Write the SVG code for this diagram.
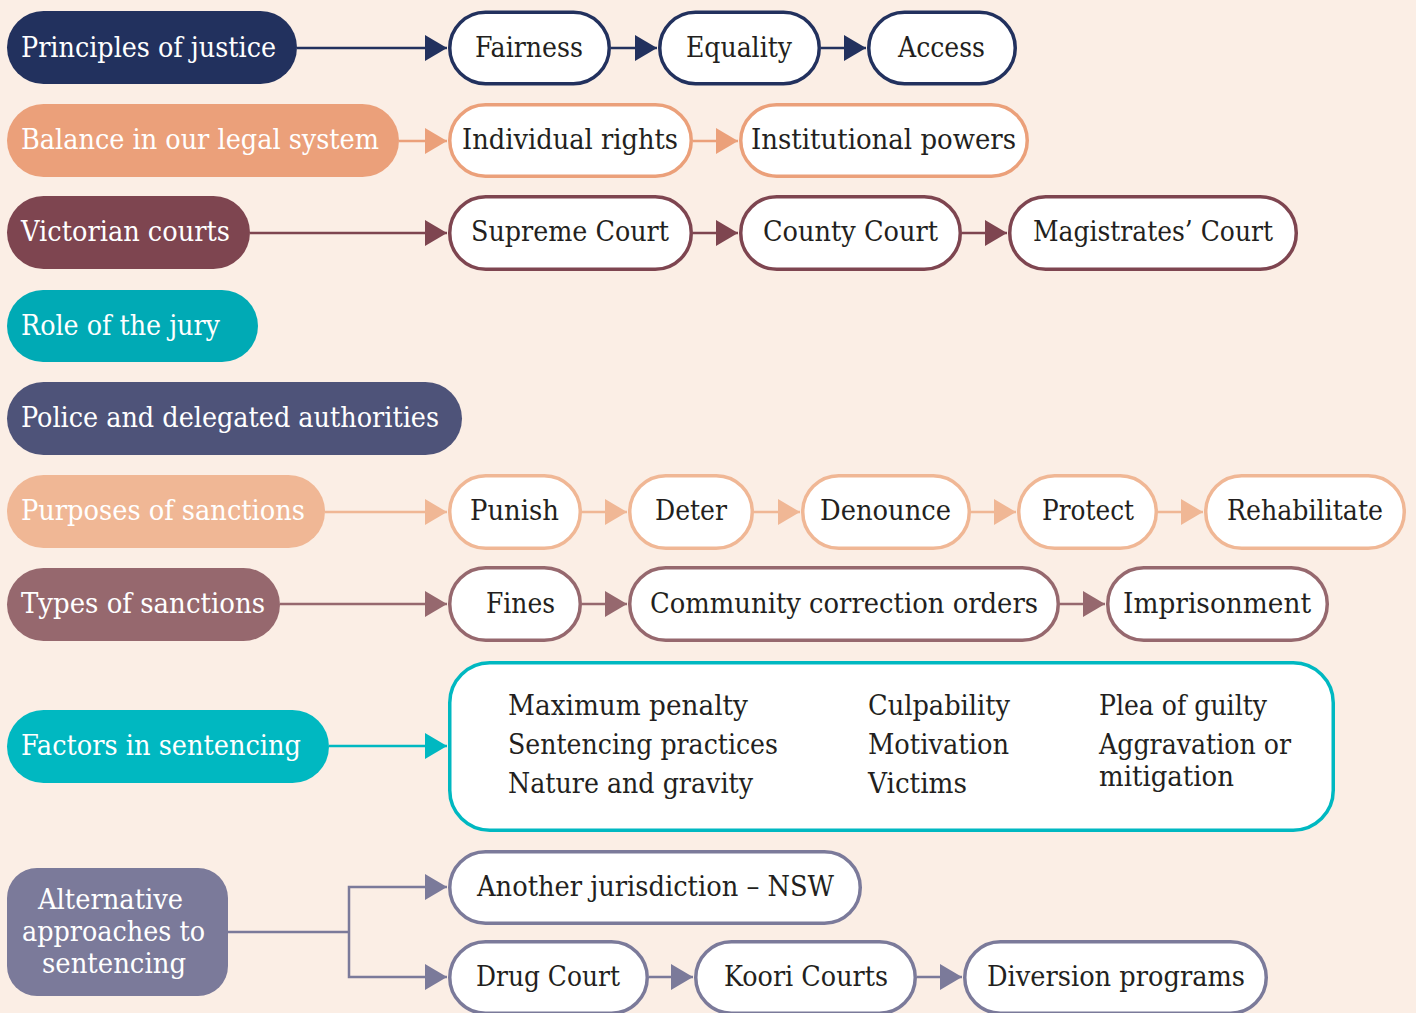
<svg xmlns="http://www.w3.org/2000/svg" width="1416" height="1013" viewBox="0 0 1416 1013">
  <style>
    text { font-family: "DejaVu Serif Condensed", "DejaVu Serif", "Liberation Serif", serif; font-stretch: condensed; font-size: 27px; }
    .hd { fill: #ffffff; }
    .lb { fill: #231f20; }
    .box { fill: #ffffff; stroke-width: 3.5; }
    .ln { fill: none; stroke-width: 2.5; }
    .navy { stroke: #22315e; } .orange { stroke: #eba07a; } .maroon { stroke: #7e4550; }
    .peach { stroke: #f0b795; } .mauve { stroke: #96686e; } .teal { stroke: #00b8c1; } .grey { stroke: #7b7a9a; }
  </style>
  <defs>
    <marker id="a-navy" markerUnits="userSpaceOnUse" markerWidth="22" markerHeight="26" refX="22" refY="13" orient="auto"><path d="M0,0 L22,13 L0,26 Z" fill="#22315e"/></marker>
    <marker id="a-orange" markerUnits="userSpaceOnUse" markerWidth="22" markerHeight="26" refX="22" refY="13" orient="auto"><path d="M0,0 L22,13 L0,26 Z" fill="#eba07a"/></marker>
    <marker id="a-maroon" markerUnits="userSpaceOnUse" markerWidth="22" markerHeight="26" refX="22" refY="13" orient="auto"><path d="M0,0 L22,13 L0,26 Z" fill="#7e4550"/></marker>
    <marker id="a-peach" markerUnits="userSpaceOnUse" markerWidth="22" markerHeight="26" refX="22" refY="13" orient="auto"><path d="M0,0 L22,13 L0,26 Z" fill="#f0b795"/></marker>
    <marker id="a-mauve" markerUnits="userSpaceOnUse" markerWidth="22" markerHeight="26" refX="22" refY="13" orient="auto"><path d="M0,0 L22,13 L0,26 Z" fill="#96686e"/></marker>
    <marker id="a-teal" markerUnits="userSpaceOnUse" markerWidth="22" markerHeight="26" refX="22" refY="13" orient="auto"><path d="M0,0 L22,13 L0,26 Z" fill="#00b8c1"/></marker>
    <marker id="a-grey" markerUnits="userSpaceOnUse" markerWidth="22" markerHeight="26" refX="22" refY="13" orient="auto"><path d="M0,0 L22,13 L0,26 Z" fill="#7b7a9a"/></marker>
  </defs>

  <rect width="1416" height="1013" fill="#fbeee5"/>

  <!-- connectors -->
  <g id="connectors">
    <path class="ln navy" d="M297,48 H447" marker-end="url(#a-navy)"/>
    <path class="ln navy" d="M611,48 H657" marker-end="url(#a-navy)"/>
    <path class="ln navy" d="M821,48 H866" marker-end="url(#a-navy)"/>

    <path class="ln orange" d="M399,141 H447" marker-end="url(#a-orange)"/>
    <path class="ln orange" d="M693,141 H738" marker-end="url(#a-orange)"/>

    <path class="ln maroon" d="M250,233 H447" marker-end="url(#a-maroon)"/>
    <path class="ln maroon" d="M693,233 H738" marker-end="url(#a-maroon)"/>
    <path class="ln maroon" d="M962,233 H1007" marker-end="url(#a-maroon)"/>

    <path class="ln peach" d="M325,512 H447" marker-end="url(#a-peach)"/>
    <path class="ln peach" d="M582,512 H627" marker-end="url(#a-peach)"/>
    <path class="ln peach" d="M754,512 H800" marker-end="url(#a-peach)"/>
    <path class="ln peach" d="M971,512 H1016" marker-end="url(#a-peach)"/>
    <path class="ln peach" d="M1158,512 H1203" marker-end="url(#a-peach)"/>

    <path class="ln mauve" d="M280,604 H447" marker-end="url(#a-mauve)"/>
    <path class="ln mauve" d="M582,604 H627" marker-end="url(#a-mauve)"/>
    <path class="ln mauve" d="M1060,604 H1105" marker-end="url(#a-mauve)"/>

    <path class="ln teal" d="M329,746 H447" marker-end="url(#a-teal)"/>

    <path class="ln grey" d="M228,932 H349"/>
    <path class="ln grey" d="M349,932 V887 H447" marker-end="url(#a-grey)"/>
    <path class="ln grey" d="M349,932 V977 H447" marker-end="url(#a-grey)"/>
    <path class="ln grey" d="M649,977 H693" marker-end="url(#a-grey)"/>
    <path class="ln grey" d="M917,977 H962" marker-end="url(#a-grey)"/>
  </g>

  <!-- row 1: principles of justice -->
  <g id="principles">
    <rect x="7" y="11" width="290" height="73" rx="36.5" fill="#22315e"/>
    <text class="hd" x="21" y="57" textLength="255" lengthAdjust="spacingAndGlyphs">Principles of justice</text>
  </g>
  <g id="fairness">
    <rect class="box navy" x="449.75" y="12.25" width="159.5" height="71.5" rx="35.75"/>
    <text class="lb" x="475" y="57" textLength="108" lengthAdjust="spacingAndGlyphs">Fairness</text>
  </g>
  <g id="equality">
    <rect class="box navy" x="659.75" y="12.25" width="159.5" height="71.5" rx="35.75"/>
    <text class="lb" x="686" y="57" textLength="106" lengthAdjust="spacingAndGlyphs">Equality</text>
  </g>
  <g id="access">
    <rect class="box navy" x="868.75" y="12.25" width="146.5" height="71.5" rx="35.75"/>
    <text class="lb" x="898" y="57" textLength="87" lengthAdjust="spacingAndGlyphs">Access</text>
  </g>

  <!-- row 2: balance -->
  <g id="balance">
    <rect x="7" y="104" width="392" height="73" rx="36.5" fill="#eba07a"/>
    <text class="hd" x="21" y="149" textLength="358" lengthAdjust="spacingAndGlyphs">Balance in our legal system</text>
  </g>
  <g id="individual-rights">
    <rect class="box orange" x="449.75" y="104.75" width="241.5" height="71.5" rx="35.75"/>
    <text class="lb" x="462" y="149" textLength="216" lengthAdjust="spacingAndGlyphs">Individual rights</text>
  </g>
  <g id="institutional-powers">
    <rect class="box orange" x="740.75" y="104.75" width="286.5" height="71.5" rx="35.75"/>
    <text class="lb" x="751" y="149" textLength="265" lengthAdjust="spacingAndGlyphs">Institutional powers</text>
  </g>

  <!-- row 3: courts -->
  <g id="victorian-courts">
    <rect x="7" y="196" width="243" height="73" rx="36.5" fill="#7e4550"/>
    <text class="hd" x="21" y="241" textLength="209" lengthAdjust="spacingAndGlyphs">Victorian courts</text>
  </g>
  <g id="supreme-court">
    <rect class="box maroon" x="449.75" y="196.75" width="241.5" height="72.5" rx="36"/>
    <text class="lb" x="471" y="241" textLength="198" lengthAdjust="spacingAndGlyphs">Supreme Court</text>
  </g>
  <g id="county-court">
    <rect class="box maroon" x="740.75" y="196.75" width="219.5" height="72.5" rx="36"/>
    <text class="lb" x="763" y="241" textLength="175" lengthAdjust="spacingAndGlyphs">County Court</text>
  </g>
  <g id="magistrates-court">
    <rect class="box maroon" x="1009.75" y="196.75" width="286.5" height="72.5" rx="36"/>
    <text class="lb" x="1033" y="241" textLength="240" lengthAdjust="spacingAndGlyphs">Magistrates’ Court</text>
  </g>

  <!-- row 4 and 5 -->
  <g id="jury">
    <rect x="7" y="290" width="251" height="72" rx="36" fill="#00aab5"/>
    <text class="hd" x="21" y="335" textLength="199" lengthAdjust="spacingAndGlyphs">Role of the jury</text>
  </g>
  <g id="police">
    <rect x="7" y="382" width="455" height="73" rx="36.5" fill="#4e5379"/>
    <text class="hd" x="21" y="427" textLength="418" lengthAdjust="spacingAndGlyphs">Police and delegated authorities</text>
  </g>

  <!-- row 6: purposes -->
  <g id="purposes">
    <rect x="7" y="475" width="318" height="73" rx="36.5" fill="#f0b795"/>
    <text class="hd" x="21" y="520" textLength="284" lengthAdjust="spacingAndGlyphs">Purposes of sanctions</text>
  </g>
  <g id="punish">
    <rect class="box peach" x="449.75" y="475.75" width="130.5" height="72.5" rx="36"/>
    <text class="lb" x="470" y="520" textLength="89" lengthAdjust="spacingAndGlyphs">Punish</text>
  </g>
  <g id="deter">
    <rect class="box peach" x="629.75" y="475.75" width="122.5" height="72.5" rx="36"/>
    <text class="lb" x="655" y="520" textLength="72" lengthAdjust="spacingAndGlyphs">Deter</text>
  </g>
  <g id="denounce">
    <rect class="box peach" x="802.75" y="475.75" width="166.5" height="72.5" rx="36"/>
    <text class="lb" x="820" y="520" textLength="131" lengthAdjust="spacingAndGlyphs">Denounce</text>
  </g>
  <g id="protect">
    <rect class="box peach" x="1018.75" y="475.75" width="137.5" height="72.5" rx="36"/>
    <text class="lb" x="1042" y="520" textLength="92" lengthAdjust="spacingAndGlyphs">Protect</text>
  </g>
  <g id="rehabilitate">
    <rect class="box peach" x="1205.75" y="475.75" width="198.5" height="72.5" rx="36"/>
    <text class="lb" x="1227" y="520" textLength="156" lengthAdjust="spacingAndGlyphs">Rehabilitate</text>
  </g>

  <!-- row 7: types -->
  <g id="types">
    <rect x="7" y="568" width="273" height="73" rx="36.5" fill="#96686e"/>
    <text class="hd" x="21" y="613" textLength="244" lengthAdjust="spacingAndGlyphs">Types of sanctions</text>
  </g>
  <g id="fines">
    <rect class="box mauve" x="449.75" y="567.75" width="130.5" height="72.5" rx="36"/>
    <text class="lb" x="486" y="613" textLength="69" lengthAdjust="spacingAndGlyphs">Fines</text>
  </g>
  <g id="cco">
    <rect class="box mauve" x="629.75" y="567.75" width="428.5" height="72.5" rx="36"/>
    <text class="lb" x="650" y="613" textLength="388" lengthAdjust="spacingAndGlyphs">Community correction orders</text>
  </g>
  <g id="imprisonment">
    <rect class="box mauve" x="1107.75" y="567.75" width="219.5" height="72.5" rx="36"/>
    <text class="lb" x="1123" y="613" textLength="188" lengthAdjust="spacingAndGlyphs">Imprisonment</text>
  </g>

  <!-- row 8: factors -->
  <g id="factors">
    <rect x="7" y="710" width="322" height="73" rx="36.5" fill="#00b8c1"/>
    <text class="hd" x="21" y="755" textLength="280" lengthAdjust="spacingAndGlyphs">Factors in sentencing</text>
  </g>
  <g id="factor-list">
    <rect class="box teal" x="449.75" y="662.75" width="883.5" height="167.5" rx="40"/>
    <text class="lb" x="508" y="715" textLength="240" lengthAdjust="spacingAndGlyphs">Maximum penalty</text>
    <text class="lb" x="508" y="754" textLength="270" lengthAdjust="spacingAndGlyphs">Sentencing practices</text>
    <text class="lb" x="508" y="793" textLength="245" lengthAdjust="spacingAndGlyphs">Nature and gravity</text>
    <text class="lb" x="868" y="715" textLength="142" lengthAdjust="spacingAndGlyphs">Culpability</text>
    <text class="lb" x="868" y="754" textLength="141" lengthAdjust="spacingAndGlyphs">Motivation</text>
    <text class="lb" x="868" y="793" textLength="99" lengthAdjust="spacingAndGlyphs">Victims</text>
    <text class="lb" x="1099" y="715" textLength="168" lengthAdjust="spacingAndGlyphs">Plea of guilty</text>
    <text class="lb" x="1099" y="754" textLength="192" lengthAdjust="spacingAndGlyphs">Aggravation or</text>
    <text class="lb" x="1099" y="786" textLength="135" lengthAdjust="spacingAndGlyphs">mitigation</text>
  </g>

  <!-- row 9: alternative approaches -->
  <g id="alternative">
    <rect x="7" y="868" width="221" height="128" rx="30" fill="#7b7a9a"/>
    <text class="hd" x="38" y="909" textLength="145" lengthAdjust="spacingAndGlyphs">Alternative</text>
    <text class="hd" x="22" y="941" textLength="183" lengthAdjust="spacingAndGlyphs">approaches to</text>
    <text class="hd" x="42" y="973" textLength="144" lengthAdjust="spacingAndGlyphs">sentencing</text>
  </g>
  <g id="nsw">
    <rect class="box grey" x="449.75" y="851.75" width="410.5" height="71.5" rx="35.75"/>
    <text class="lb" x="477" y="896" textLength="357" lengthAdjust="spacingAndGlyphs">Another jurisdiction – NSW</text>
  </g>
  <g id="drug-court">
    <rect class="box grey" x="449.75" y="941.75" width="197.5" height="71.5" rx="35.75"/>
    <text class="lb" x="476" y="986" textLength="144" lengthAdjust="spacingAndGlyphs">Drug Court</text>
  </g>
  <g id="koori-courts">
    <rect class="box grey" x="695.75" y="941.75" width="219.5" height="71.5" rx="35.75"/>
    <text class="lb" x="724" y="986" textLength="164" lengthAdjust="spacingAndGlyphs">Koori Courts</text>
  </g>
  <g id="diversion">
    <rect class="box grey" x="964.75" y="941.75" width="301.5" height="71.5" rx="35.75"/>
    <text class="lb" x="987" y="986" textLength="258" lengthAdjust="spacingAndGlyphs">Diversion programs</text>
  </g>
</svg>
